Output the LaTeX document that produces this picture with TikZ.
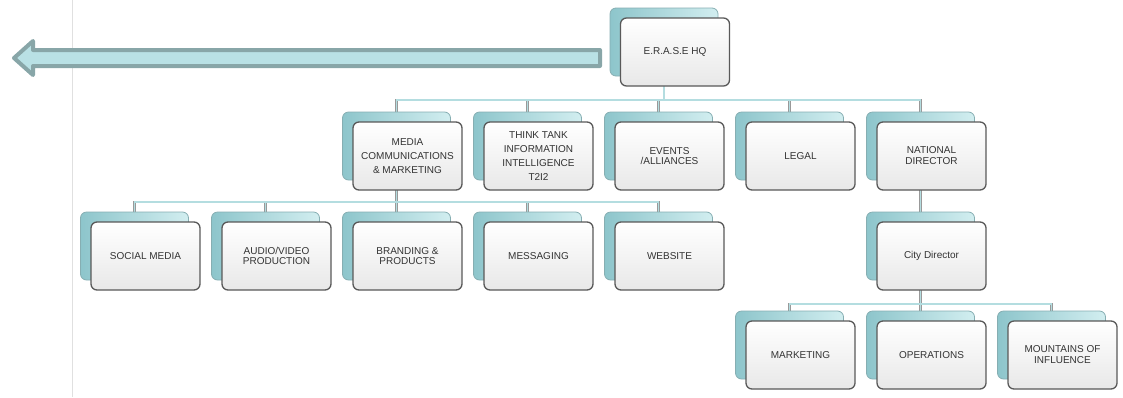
\documentclass[tikz,border=0pt]{standalone}
\usepackage{fontspec}
\setmainfont{Liberation Sans}
\usetikzlibrary{backgrounds}

\definecolor{backdark}{HTML}{8DC5CB}
\definecolor{backlight}{HTML}{D2EEF0}
\definecolor{backline}{HTML}{86AEB2}
\definecolor{frontline}{HTML}{595959}
\definecolor{linkcol}{HTML}{B4DDE0}
\definecolor{arrowfill}{HTML}{B9E1E5}
\definecolor{arrowline}{HTML}{88A6A8}
\definecolor{textcol}{HTML}{333333}

\begin{document}
\begin{tikzpicture}[x=1pt,y=-1pt,
  backbox/.style={rounded corners=6pt, draw=backline, line width=0.8pt,
    left color=backdark, right color=backlight,
    minimum width=108pt, minimum height=68pt, inner sep=0pt},
  frontbox/.style={rounded corners=6pt, draw=frontline, line width=1.3pt,
    top color=white, bottom color=black!9,
    minimum width=109pt, minimum height=68pt, inner sep=2pt,
    align=center, text=textcol, font=\fontsize{10}{11}\selectfont},
  link/.style={draw=black!40, line width=0.5pt, double=linkcol, double distance=1.6pt},
  bigarrow/.style={fill=arrowfill, draw=arrowline, line width=4pt, line join=round}]

\useasboundingbox (0,0) rectangle (1123,397);

% page edge
\draw[black!12, line width=1pt] (72.5,0) -- (72.5,397);

% arrow out of the HQ
\draw[bigarrow] (600,50) -- (33,50) -- (33,41) -- (14,58) -- (33,75) -- (33,66) -- (600,66) -- cycle;

% define boxes
\foreach \nm/\cx/\cy/\txt in {
    hq/675/52/{E.R.A.S.E HQ},
    media/407.5/156/{MEDIA\\[3pt]COMMUNICATIONS\\[3pt]\& MARKETING},
    think/538.5/156/{THINK TANK\\[3pt]INFORMATION\\[3pt]INTELLIGENCE\\[3pt]T2I2},
    events/669.5/156/{EVENTS\\[-1pt]/ALLIANCES},
    legal/800.5/156/{LEGAL},
    national/931.5/156/{NATIONAL\\DIRECTOR},
    social/145.5/256/{SOCIAL MEDIA},
    audio/276.5/256/{AUDIO/VIDEO\\[-1pt]PRODUCTION},
    branding/407.5/256/{BRANDING \&\\[-1pt]PRODUCTS},
    messaging/538.5/256/{MESSAGING},
    website/669.5/256/{WEBSITE},
    city/931.5/256/{City Director},
    marketing/800.5/355/{MARKETING},
    operations/931.5/355/{OPERATIONS},
    mountains/1062.5/355/{MOUNTAINS OF\\INFLUENCE}}
{
  \node[backbox] (\nm-b) at ({\cx-11},{\cy-10}) {};
  \node[frontbox] (\nm) at (\cx,\cy) {\txt};
}

% connectors
\coordinate (bus-a) at (0,100);
\coordinate (bus-b) at (0,202);
\coordinate (bus-c) at (0,304);

\begin{scope}[on background layer]
\draw[link] (hq-b.center) -- (hq-b.center |- bus-a)
  (media-b.north) |- (national-b.north |- bus-a) -- (national-b.north)
  \foreach \c in {think,events,legal} {(\c-b.north) -- (\c-b.north |- bus-a)};
\draw[link] (media-b.center) -- (media-b.center |- bus-b)
  (social-b.north) |- (website-b.north |- bus-b) -- (website-b.north)
  \foreach \c in {audio,branding,messaging} {(\c-b.north) -- (\c-b.north |- bus-b)};
\draw[link] (national-b.center) -- (city-b.north);
\draw[link] (city-b.center) -- (city-b.center |- bus-c)
  (marketing-b.north) |- (mountains-b.north |- bus-c) -- (mountains-b.north)
  (operations-b.north) -- (operations-b.north |- bus-c);
\end{scope}

\end{tikzpicture}
\end{document}
